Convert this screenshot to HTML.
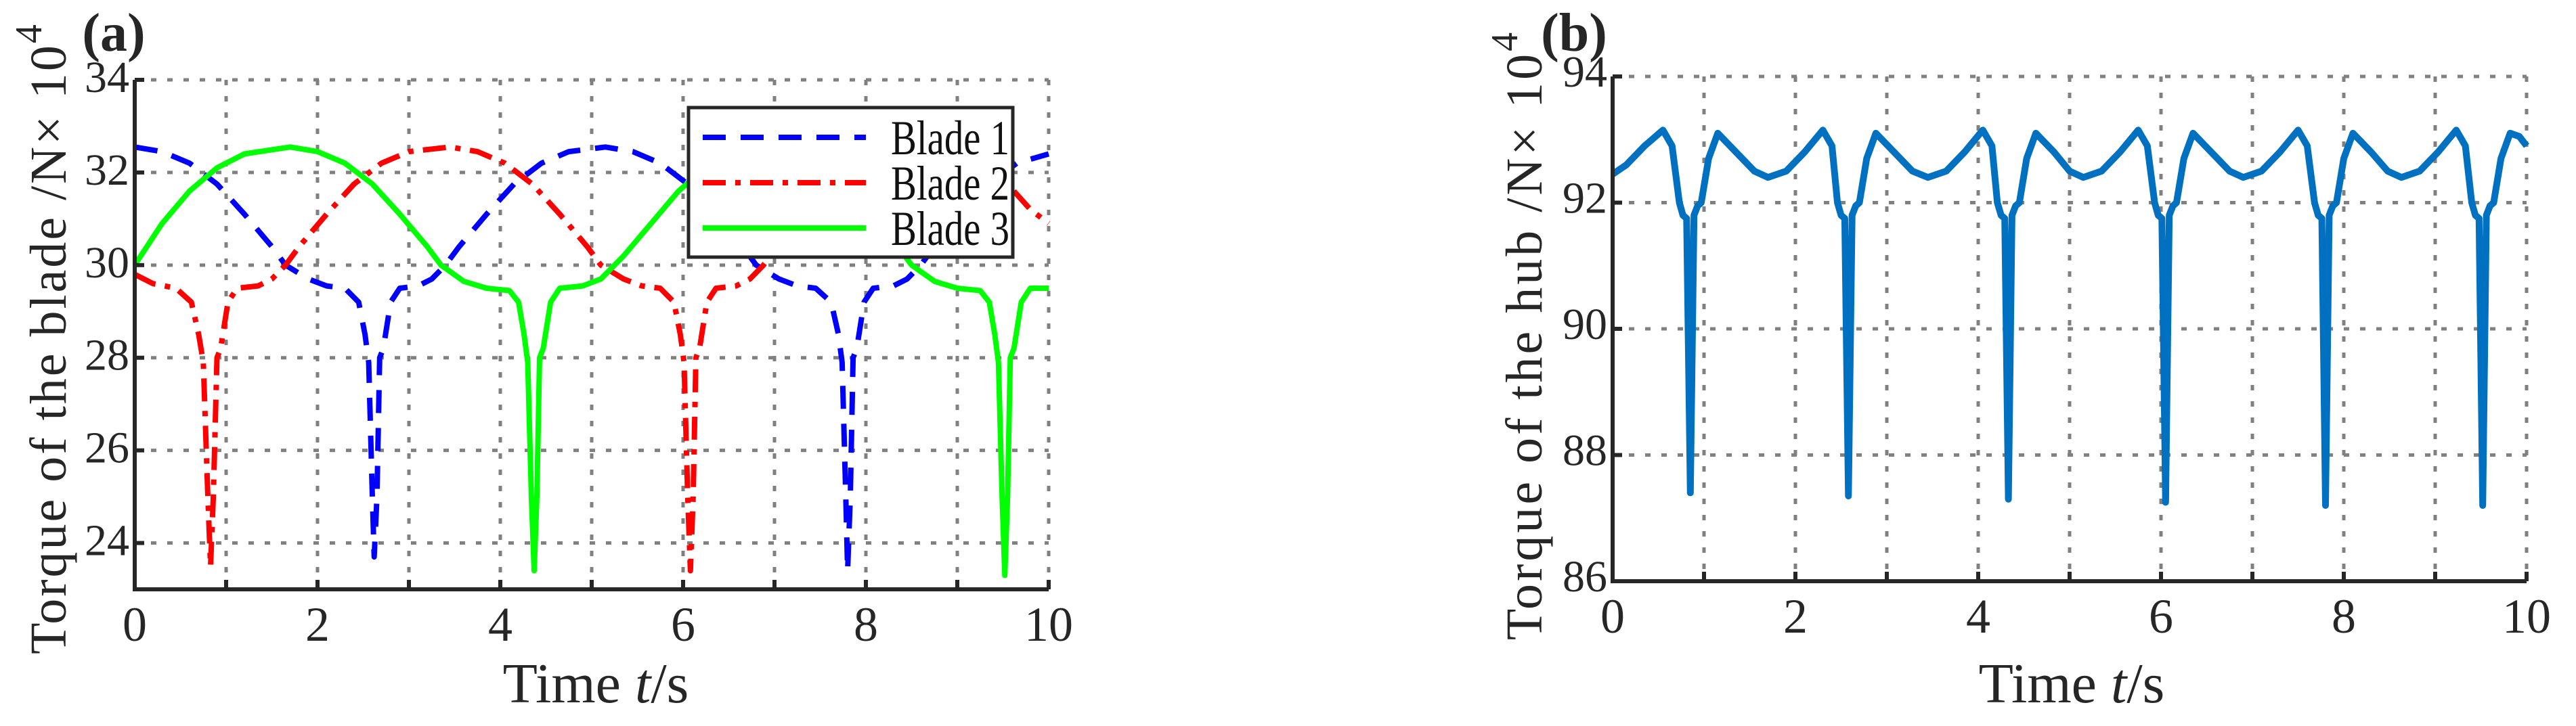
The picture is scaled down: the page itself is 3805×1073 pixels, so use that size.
<!DOCTYPE html>
<html><head><meta charset="utf-8"><style>
html,body{margin:0;padding:0;background:#fff;}
svg{display:block;font-family:"Liberation Serif",serif;}
</style></head><body>
<svg id="fig" width="3805" height="1073" viewBox="0 0 3805 1073" xmlns="http://www.w3.org/2000/svg"></svg>
<script>
// ---- Panel (a) data ----
const b1T=[0,0.3,0.6,0.9,1.2,1.5,1.65,1.9,2.1,2.3,2.45,2.52,2.56,2.6,2.62,2.65,2.68,2.72,2.8,2.9,3.1,3.25,3.4,3.55,3.85,4.15,4.45,4.75,5.15,5.45,5.75,6.05,6.35,6.65,6.8,7.05,7.25,7.45,7.62,7.7,7.74,7.78,7.8,7.83,7.86,7.9,7.98,8.08,8.3,8.45,8.6,8.75,9.05,9.35,9.65,10];
const b1V=[32.55,32.45,32.2,31.75,31.1,30.4,30.0,29.7,29.55,29.5,29.2,28.5,27.9,25,23.7,25,28.0,28.2,29.2,29.5,29.55,29.7,30.0,30.4,31.1,31.75,32.2,32.45,32.55,32.45,32.2,31.75,31.1,30.4,30.0,29.7,29.55,29.5,29.2,28.5,27.9,25,23.4,25,28.0,28.2,29.2,29.5,29.55,29.7,30.0,30.4,31.1,31.75,32.2,32.4];
const b2T=[0,0.2,0.45,0.62,0.7,0.75,0.8,0.83,0.86,0.9,0.94,1.02,1.12,1.35,1.5,1.65,1.8,2.1,2.4,2.7,3.0,3.45,3.75,4.05,4.35,4.65,4.95,5.1,5.35,5.55,5.75,5.9,5.97,6.01,6.05,6.08,6.11,6.14,6.18,6.26,6.36,6.58,6.73,6.88,7.03,7.33,7.63,7.93,8.23,8.65,8.95,9.25,9.55,9.8,10];
const b2V=[29.8,29.6,29.5,29.2,28.5,27.9,25,23.5,25,28.0,28.2,29.2,29.5,29.55,29.7,30.0,30.4,31.1,31.75,32.2,32.45,32.55,32.45,32.2,31.75,31.1,30.4,30.0,29.7,29.55,29.5,29.2,28.5,27.9,25,23.4,25,28.0,28.2,29.2,29.5,29.55,29.7,30.0,30.4,31.1,31.75,32.2,32.45,32.55,32.45,32.2,31.75,31.2,30.9];
const b3T=[0,0.3,0.6,0.9,1.2,1.7,2.0,2.3,2.6,2.9,3.2,3.35,3.6,3.85,4.1,4.2,4.26,4.3,4.34,4.37,4.4,4.43,4.47,4.55,4.65,4.9,5.1,5.35,5.65,5.95,6.25,6.55,6.85,7.15,7.45,7.75,8.05,8.35,8.5,8.75,9.0,9.25,9.35,9.41,9.45,9.49,9.52,9.55,9.58,9.62,9.7,9.8,10];
const b3V=[30.0,30.9,31.6,32.1,32.4,32.55,32.45,32.2,31.75,31.1,30.4,30.0,29.65,29.5,29.45,29.2,28.5,27.9,25,23.4,25,28.0,28.2,29.2,29.5,29.55,29.7,30.2,30.9,31.6,32.1,32.4,32.55,32.45,32.2,31.75,31.1,30.4,30.0,29.65,29.5,29.45,29.2,28.5,27.9,25,23.3,25,28.0,28.2,29.2,29.5,29.5];
const aXTicks=[0,2,4,6,8,10];
const aYTicks=[24,26,28,30,32,34];
// ---- Panel (b) data ----
const hubT=[0,0.15,0.35,0.55,0.65,0.73,0.77,0.81,0.85,0.89,0.93,0.97,1.05,1.15,1.35,1.55,1.7,1.9,2.1,2.3,2.4,2.46,2.5,2.54,2.58,2.62,2.66,2.7,2.78,2.88,3.08,3.28,3.45,3.65,3.85,4.05,4.15,4.21,4.25,4.29,4.33,4.37,4.41,4.45,4.53,4.63,4.83,5.0,5.15,5.35,5.55,5.75,5.85,5.93,5.97,6.01,6.05,6.09,6.13,6.17,6.25,6.35,6.55,6.75,6.9,7.1,7.3,7.5,7.6,7.68,7.72,7.76,7.8,7.84,7.88,7.92,8.0,8.1,8.3,8.48,8.63,8.83,9.03,9.23,9.33,9.4,9.44,9.48,9.52,9.56,9.6,9.64,9.72,9.82,9.92,10];
const hubV=[92.45,92.6,92.9,93.15,92.9,92.0,91.8,91.75,87.4,91.8,91.95,92.0,92.7,93.1,92.8,92.5,92.4,92.5,92.8,93.15,92.9,92.0,91.8,91.75,87.35,91.8,91.95,92.0,92.7,93.1,92.8,92.5,92.4,92.5,92.8,93.15,92.9,92.0,91.8,91.75,87.3,91.8,91.95,92.0,92.7,93.1,92.8,92.5,92.4,92.5,92.8,93.15,92.9,92.0,91.8,91.75,87.25,91.8,91.95,92.0,92.7,93.1,92.8,92.5,92.4,92.5,92.8,93.15,92.9,92.0,91.8,91.75,87.2,91.8,91.95,92.0,92.7,93.1,92.8,92.5,92.4,92.5,92.8,93.15,92.9,92.0,91.8,91.75,87.2,91.8,91.95,92.0,92.7,93.1,93.05,92.9];
const bXTicks=[0,2,4,6,8,10];
const bYTicks=[86,88,90,92,94];

const NS='http://www.w3.org/2000/svg';
const svg=document.getElementById('fig');
function mk(tag,attrs,parent){const e=document.createElementNS(NS,tag);for(const k in attrs)e.setAttribute(k,attrs[k]);(parent||svg).appendChild(e);return e;}

function panel(cfg){
  const g=mk('g',{});
  
  
  const sx=v=>cfg.L+(v-cfg.x0)/(cfg.x1-cfg.x0)*(cfg.R-cfg.L);
  const sy=v=>cfg.B-(v-cfg.y0)/(cfg.y1-cfg.y0)*(cfg.B-cfg.T);
  for(let x=cfg.x0+1;x<=cfg.x1;x++){
    const l=mk('line',{x1:sx(x),x2:sx(x),y1:cfg.T,y2:cfg.B,stroke:'#808080','stroke-width':5,'stroke-dasharray':'8 16'},g);
    
    
  }
  for(const y of cfg.yTicks){
    const l=mk('line',{x1:cfg.L,x2:cfg.R,y1:sy(y),y2:sy(y),stroke:'#808080','stroke-width':5,'stroke-dasharray':'8 16'},g);
    
    
  }
  for(const s of cfg.series){
    const pts=s.t.map((t,i)=>sx(t).toFixed(1)+','+sy(s.v[i]).toFixed(1)).join(' ');
    const p=mk('polyline',{points:pts,fill:'none',stroke:s.color,'stroke-width':s.w||7,'stroke-linejoin':'round','stroke-dasharray':s.dash||'none'},g);
    
    
  }
  const ax=mk('path',{d:`M${cfg.L},${cfg.T} L${cfg.L},${cfg.B} L${cfg.R},${cfg.B}`,fill:'none',stroke:'#262626','stroke-width':6},g);
  
  
  for(let x=cfg.x0;x<=cfg.x1;x++){
    mk('line',{x1:sx(x),x2:sx(x),y1:cfg.B,y2:cfg.B-14,stroke:'#262626','stroke-width':6},g);
  }
  for(const y of cfg.yTicks){
    mk('line',{x1:cfg.L,x2:cfg.L+14,y1:sy(y),y2:sy(y),stroke:'#262626','stroke-width':6},g);
  }
  for(const x of cfg.xTicks){
    const t=mk('text',{x:sx(x),y:cfg.B+76,'text-anchor':'middle','font-size':72,fill:'#262626'},g);
    t.textContent=x;
    
    
  }
  for(const y of cfg.yTicks){
    const t=mk('text',{x:cfg.L-8,y:sy(y)+cfg.yOff,'text-anchor':'end','font-size':66,fill:'#262626'},g);
    t.textContent=y;
    
    
  }
  return {sx,sy,g};
}

const A=panel({name:'panel-a-chart',L:199,R:1549,T:118,B:871,x0:0,x1:10,y0:23,y1:34,yTicks:aYTicks,xTicks:aXTicks,yOff:18,
  series:[
    {name:'blade-1-line',t:b1T,v:b1V,color:'#0000ff',dash:'34 22',w:8},
    {name:'blade-2-line',t:b2T,v:b2V,color:'#ff0000',dash:'34 14 8 14',w:8},
    {name:'blade-3-line',t:b3T,v:b3V,color:'#00ff00',w:8}
  ]});
const B=panel({name:'panel-b-chart',L:2382,R:3732,T:113,B:859,x0:0,x1:10,y0:86,y1:94,yTicks:bYTicks,xTicks:bXTicks,yOff:15,
  series:[{name:'hub-torque-line',t:hubT,v:hubV,color:'#0070c0',w:10}]});
</script>
<script>
(function(){
  const svg=document.getElementById('fig');
  svg.insertAdjacentHTML('beforeend',`
  <text x="168" y="75" font-size="80" font-weight="bold" fill="#262626" text-anchor="middle">(a)</text>
  <text x="2325" y="75" font-size="80" font-weight="bold" fill="#262626" text-anchor="middle">(b)</text>
  <text transform="translate(97,500) rotate(-90)" font-size="76" fill="#262626" text-anchor="middle" letter-spacing="3">Torque of the blade  /N× 10<tspan dy="-36" font-size="56">4</tspan></text>
  <text transform="translate(2277,495) rotate(-90)" font-size="76" fill="#262626" text-anchor="middle" letter-spacing="4">Torque of the hub   /N× 10<tspan dy="-36" font-size="56">4</tspan></text>
  <text x="880" y="1038" font-size="84" fill="#262626" text-anchor="middle">Time <tspan font-style="italic">t</tspan>/s</text>
  <text x="3060" y="1038" font-size="84" fill="#262626" text-anchor="middle">Time <tspan font-style="italic">t</tspan>/s</text>
  <g>
    <rect x="1017" y="159" width="479" height="221" fill="#fff" stroke="#262626" stroke-width="5"/>
    <g>
      <line x1="1038" x2="1279" y1="203" y2="203" stroke="#0000ff" stroke-width="8" stroke-dasharray="34 22"/>
      <text x="1316" y="228" font-size="72" fill="#111" textLength="175" lengthAdjust="spacingAndGlyphs">Blade 1</text>
    </g>
    <g>
      <line x1="1038" x2="1279" y1="270" y2="270" stroke="#ff0000" stroke-width="8" stroke-dasharray="34 14 8 14"/>
      <text x="1316" y="295" font-size="72" fill="#111" textLength="175" lengthAdjust="spacingAndGlyphs">Blade 2</text>
    </g>
    <g>
      <line x1="1038" x2="1279" y1="337" y2="337" stroke="#00ff00" stroke-width="8"/>
      <text x="1316" y="362" font-size="72" fill="#111" textLength="175" lengthAdjust="spacingAndGlyphs">Blade 3</text>
    </g>
  </g>`);
})();
</script>
</body></html>
